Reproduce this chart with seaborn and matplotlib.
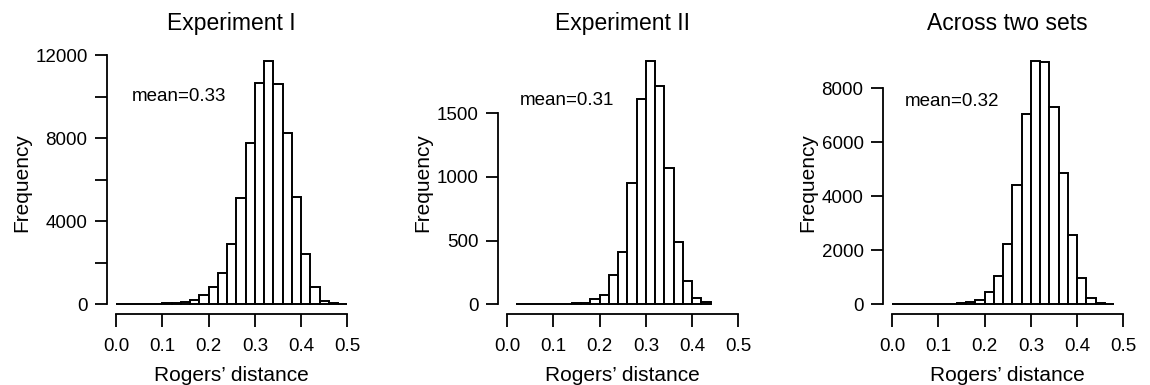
import numpy as np
import pandas as pd
import seaborn as sns
import matplotlib.pyplot as plt

# bin width 0.02
bin_width = 0.02

exp1_start = 0.00
exp1_counts = [10, 10, 15, 20, 30, 40, 70, 130, 220, 450, 820, 1520, 2920, 5100,
               7780, 10650, 11740, 10600, 8250, 5150, 2420, 820, 145, 40, 15]

exp2_start = 0.02
exp2_counts = [2, 1, 2, 3, 4, 5, 6, 12, 40, 76, 230, 410, 952, 1607, 1910, 1709,
               1067, 488, 185, 52, 16]

both_start = 0.00
both_counts = [5, 5, 5, 8, 10, 15, 25, 50, 100, 170, 440, 1030, 2230, 4420, 7030,
               9020, 8990, 7310, 4875, 2560, 985, 235, 60, 25]

titles = ["Experiment I", "Experiment II", "Across two sets"]
mean_labels = ["mean=0.33", "mean=0.31", "mean=0.32"]
mean_pos = [(0.135, 10000), (0.13, 1600), (0.13, 7500)]
y_ticks = [np.arange(0, 12001, 2000), np.arange(0, 1501, 500), np.arange(0, 8001, 2000)]
y_labels_every = [2, 1, 1]
x_ticks = [0.0, 0.1, 0.2, 0.3, 0.4, 0.5]

sns.set_theme(style="ticks")
plt.rcParams["font.family"] = ["Liberation Sans", "DejaVu Sans"]
plt.rcParams["text.color"] = "black"
plt.rcParams["axes.labelcolor"] = "black"
plt.rcParams["axes.edgecolor"] = "black"
plt.rcParams["xtick.color"] = "black"
plt.rcParams["ytick.color"] = "black"
plt.rcParams["axes.linewidth"] = 1.3
plt.rcParams["xtick.major.width"] = 1.3
plt.rcParams["ytick.major.width"] = 1.3
plt.rcParams["xtick.major.size"] = 9
plt.rcParams["ytick.major.size"] = 9

fig = plt.figure(figsize=(11.5, 3.85), dpi=100)
W, H = 1150, 385
lefts_px = [107, 498, 883]
ax_top, ax_bot, ax_w = 51, 314, 249.6

datasets = [(exp1_start, exp1_counts), (exp2_start, exp2_counts), (both_start, both_counts)]

for i, (start, counts) in enumerate(datasets):
    ax = fig.add_axes([lefts_px[i] / W, (H - ax_bot) / H, ax_w / W, (ax_bot - ax_top) / H])
    n = len(counts)
    centers = start + bin_width * (np.arange(n) + 0.5)
    df = pd.DataFrame({"x": centers, "count": counts})
    sns.histplot(data=df, x="x", weights="count", binwidth=bin_width,
                 binrange=(start, start + n * bin_width), ax=ax,
                 color="white", edgecolor="black", linewidth=1.4, alpha=1)

    ymax = max(counts)
    pad = 0.04 * ymax
    ax.set_ylim(-pad, ymax + pad)
    ax.set_xlim(-0.02, 0.52)

    ticks = y_ticks[i]
    ax.set_yticks(ticks)
    ax.set_yticklabels([str(t) if k % y_labels_every[i] == 0 else "" for k, t in enumerate(ticks)])
    ax.set_xticks(x_ticks)
    ax.set_xticklabels([f"{t:.1f}" for t in x_ticks])
    ax.tick_params(axis="y", labelsize=13.5, pad=5)
    ax.tick_params(axis="x", labelsize=13.5, pad=8)

    ax.spines["left"].set_bounds(0, ticks[-1])
    ax.spines["bottom"].set_bounds(0, 0.5)
    ax.spines["top"].set_visible(False)
    ax.spines["right"].set_visible(False)

    ax.set_xlabel("Rogers\u2019 distance", fontsize=15, labelpad=8)
    ax.set_ylabel("Frequency", fontsize=15, labelpad=3)
    ax.set_title(titles[i], fontsize=16.5, pad=0, y=1.0 + 21 / (ax_bot - ax_top))

    mx, my = mean_pos[i]
    ax.text(mx, my, mean_labels[i], fontsize=13.5, ha="center", va="center")

fig.savefig("out.png", dpi=100)
